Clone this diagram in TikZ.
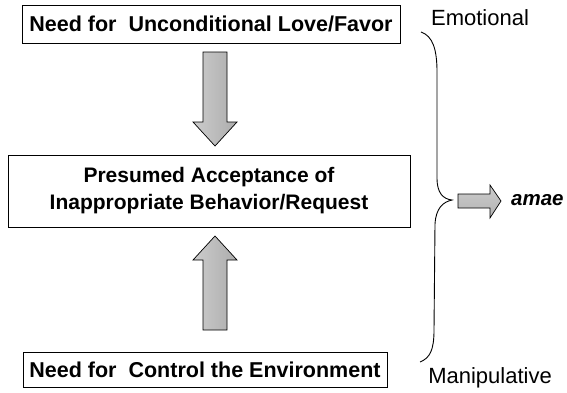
\documentclass[tikz,border=0pt]{standalone}
\usepackage{fontspec}
\setmainfont{Liberation Sans}
\begin{document}
\begin{tikzpicture}[x=1pt,y=-1pt,
  box/.style={draw,line width=0.9pt,inner sep=0pt,align=center,font=\bfseries\fontsize{21.5}{25}\selectfont},
  lbl/.style={font=\fontsize{22}{25}\selectfont,inner sep=0pt},
  fatarrow/.style={draw,line width=0.7pt,left color=gray!40,right color=gray!65},
  brace/.style={draw,line width=0.9pt}]
\path[use as bounding box,fill=white] (0,0) rectangle (567,392);
\node[box,minimum width=378pt,minimum height=38pt] (top) at (211,24) {Need for\ \ Unconditional Love/Favor};
\node[box,minimum width=402pt,minimum height=72pt,font=\bfseries\fontsize{21}{27}\selectfont] (mid) at (209,191) {Presumed Acceptance of\\Inappropriate Behavior/Request};
\node[box,minimum width=364pt,minimum height=35pt] (bot) at (205,369.5) {Need for\ \ Control the Environment};
\node[lbl] (emo) at (480,18) {Emotional};
\node[lbl] (man) at (490,378) {Manipulative};
\node[font=\bfseries\itshape\fontsize{20.5}{24}\selectfont,inner sep=0pt,anchor=west] (amae) at (511,200) {amae};
% down arrow
\path[fatarrow] (203,52) -- (227,52) -- (227,122) -- (237,122) -- (215,146) -- (193,122) -- (203,122) -- cycle;
% up arrow
\path[fatarrow] (203,330) -- (227,330) -- (227,260) -- (237,260) -- (215,236) -- (193,260) -- (203,260) -- cycle;
% right arrow
\path[fatarrow,top color=gray!40,bottom color=gray!60] (458,194) -- (490,194) -- (490,185) -- (501,201) -- (490,218) -- (490,208) -- (458,208) -- cycle;
% brace
\coordinate (bt) at (421,32);
\coordinate (bb) at (420,362);
\coordinate (bc) at (452,200);
\path[brace] (bt) .. controls (433,36) and (437,50) .. (437,72) -- (437,178)
  .. controls (437,193) and (443,199) .. (bc)
  .. controls (443,202) and (436,208) .. (435,224) -- (434,330)
  .. controls (434,350) and (430,358) .. (bb);
\end{tikzpicture}
\end{document}
